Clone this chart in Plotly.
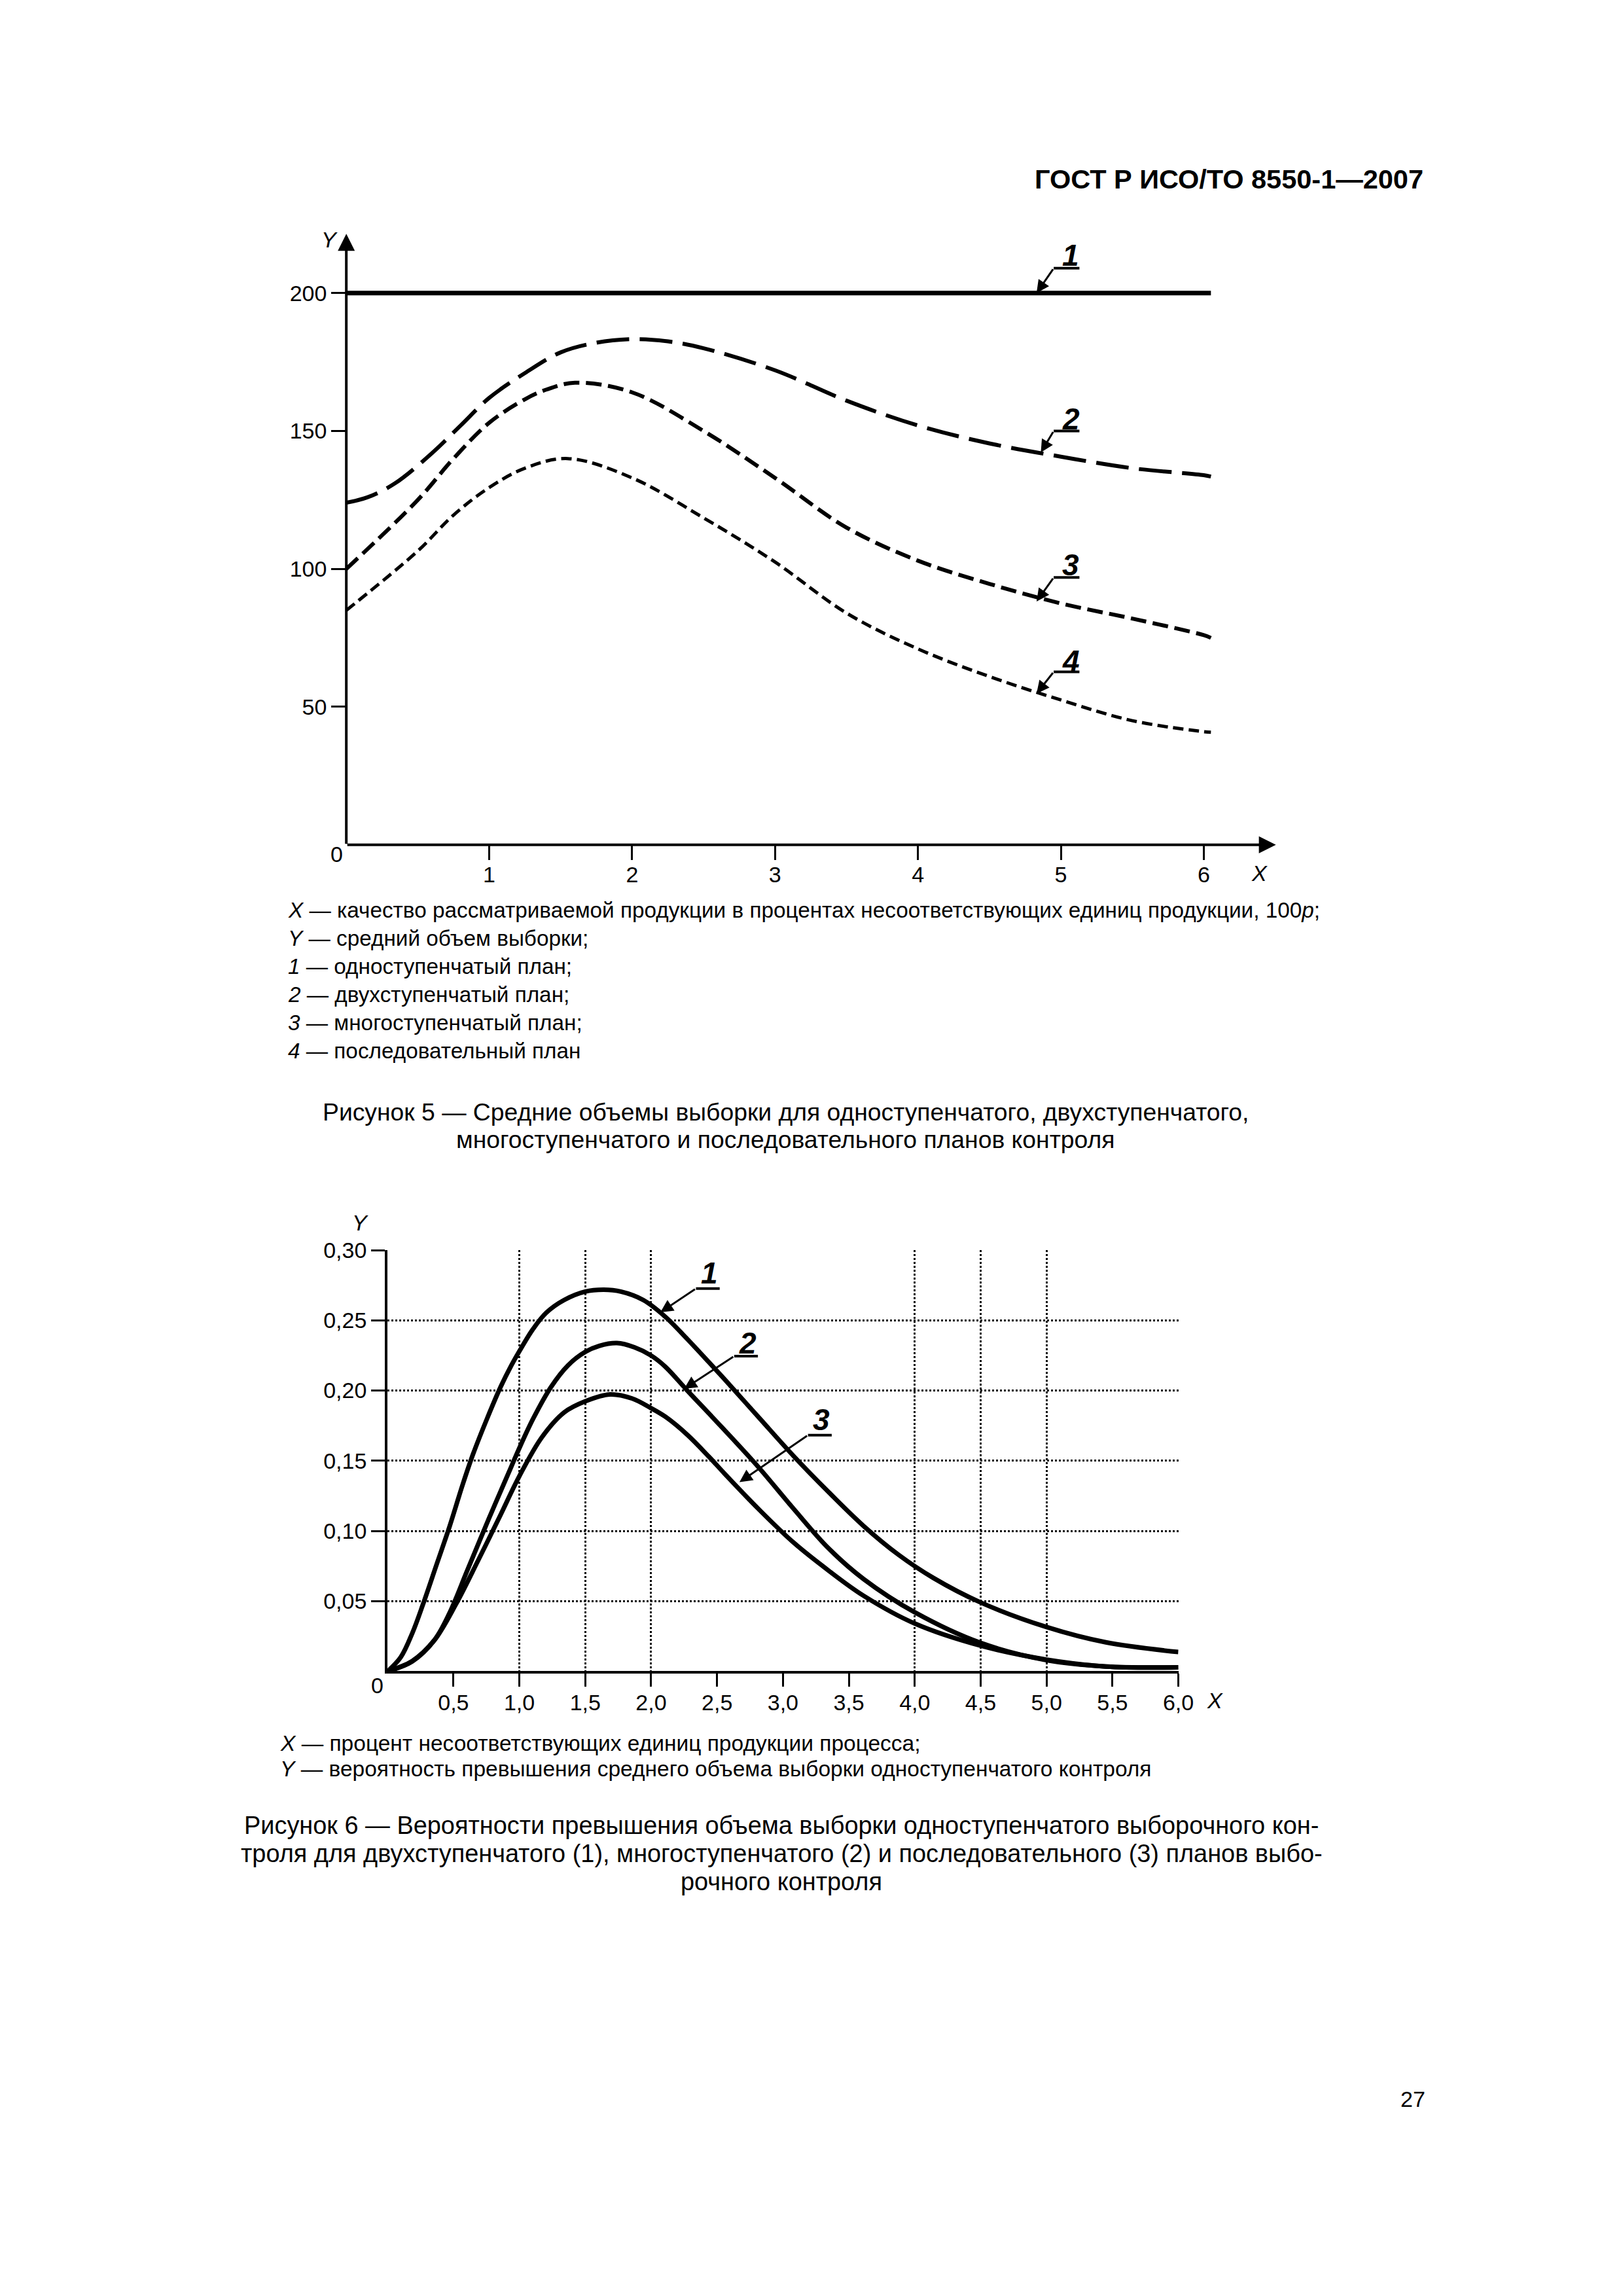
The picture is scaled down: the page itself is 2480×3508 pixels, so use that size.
import plotly.graph_objects as go

W, H = 2480, 3508
FONT = "Liberation Sans"

# ---------------- Figure 5 data ----------------
f5_x_single = [0.0, 6.05]
f5_y_single = [200, 200]

f5_x_double = [0.0, 0.15, 0.34, 0.6, 0.8, 1.0, 1.25, 1.5, 1.75, 2.0, 2.25, 2.5, 3.0, 3.5, 4.0, 4.5, 5.0, 5.5, 6.0, 6.05]
f5_y_double = [124, 126, 131, 142, 152, 162, 171, 178.5, 182, 183.3, 182.5, 180, 172, 161, 152, 145.5, 140.7, 136.5, 134, 133.5]

f5_x_multi = [0.0, 0.5, 0.75, 1.0, 1.25, 1.4, 1.6, 2.0, 2.5, 3.0, 3.5, 4.0, 4.5, 5.0, 5.5, 6.0, 6.05]
f5_y_multi = [100, 125, 140, 153, 161.5, 165, 167.5, 164, 150, 133, 115, 103, 94.6, 87.5, 82, 76, 75]

f5_x_seq = [0.0, 0.5, 0.75, 1.0, 1.25, 1.55, 2.0, 2.5, 3.0, 3.5, 4.0, 4.5, 5.0, 5.5, 6.0, 6.05]
f5_y_seq = [85, 106.5, 119.5, 129.5, 136.5, 140, 133, 118.5, 102.5, 84, 71, 61, 52.5, 45, 41, 40.8]

f5_xticks = [1, 2, 3, 4, 5, 6]
f5_yticks = [50, 100, 150, 200]

# ---------------- Figure 6 data ----------------
f6_x1 = [0, 0.10, 0.187, 0.27, 0.37, 0.47, 0.57, 0.65, 0.755, 0.855, 0.94, 1.0, 1.105, 1.205, 1.34, 1.5, 1.64,
         1.77, 1.94, 2.107, 2.274, 2.44, 2.555, 2.82, 3.084, 3.348, 3.612, 3.877, 4.141, 4.5, 5.0, 5.45, 6.0]
f6_y1 = [0, 0.010, 0.027, 0.048, 0.0755, 0.103, 0.133, 0.155, 0.180, 0.202, 0.218, 0.228, 0.244, 0.2555, 0.2645,
         0.2705, 0.2718, 0.2705, 0.2645, 0.2526, 0.2367, 0.22, 0.2082, 0.1805, 0.153, 0.1275, 0.1035, 0.0830,
         0.0665, 0.049, 0.0315, 0.0206, 0.0137]

f6_x2 = [0, 0.187, 0.354, 0.47, 0.604, 0.77, 0.94, 1.0, 1.105, 1.24, 1.37, 1.5, 1.606, 1.74, 1.873, 2.0, 2.107,
         2.274, 2.44, 2.54, 2.82, 3.084, 3.348, 3.612, 4.0, 4.5, 5.0, 5.45, 6.0]
f6_y2 = [0, 0.007, 0.022, 0.0415, 0.0716, 0.109, 0.146, 0.159, 0.180, 0.2025, 0.218, 0.2275, 0.2318, 0.2338,
         0.2308, 0.2249, 0.217, 0.200, 0.1835, 0.1735, 0.1448, 0.1154, 0.0874, 0.0657, 0.042, 0.0202, 0.0079,
         0.0034, 0.0028]

f6_x3 = [0, 0.187, 0.354, 0.52, 0.69, 0.855, 1.0, 1.17, 1.34, 1.5, 1.69, 1.856, 2.0, 2.107, 2.274, 2.44, 2.555,
         2.82, 3.084, 3.348, 3.612, 4.0, 4.5, 5.0, 5.45, 6.0]
f6_y3 = [0, 0.0073, 0.022, 0.048, 0.0795, 0.111, 0.139, 0.1666, 0.1844, 0.1923, 0.1972, 0.1943, 0.1874, 0.1814,
         0.1685, 0.1527, 0.1410, 0.1151, 0.0914, 0.0716, 0.0538, 0.034, 0.0182, 0.0083, 0.0034, 0.0028]

f6_xticks = [0.5, 1.0, 1.5, 2.0, 2.5, 3.0, 3.5, 4.0, 4.5, 5.0, 5.5, 6.0]
f6_xticktext = ["0,5", "1,0", "1,5", "2,0", "2,5", "3,0", "3,5", "4,0", "4,5", "5,0", "5,5", "6,0"]
f6_yticks = [0.05, 0.10, 0.15, 0.20, 0.25, 0.30]
f6_yticktext = ["0,05", "0,10", "0,15", "0,20", "0,25", "0,30"]
f6_vgrid = [1.0, 1.5, 2.0, 4.0, 4.5, 5.0]

# ---------------- texts ----------------
header = "ГОСТ Р ИСО/ТО 8550-1—2007"
f5_legend = [
    "<i>X</i> — качество рассматриваемой продукции в процентах несоответствующих единиц продукции, 100<i>p</i>;",
    "<i>Y</i> — средний объем выборки;",
    "<i>1</i> — одноступенчатый план;",
    "<i>2</i> — двухступенчатый план;",
    "<i>3</i> — многоступенчатый план;",
    "<i>4</i> — последовательный план",
]
f5_caption = [
    "Рисунок 5 — Средние объемы выборки для одноступенчатого, двухступенчатого,",
    "многоступенчатого и последовательного планов контроля",
]
f6_legend = [
    "<i>X</i> — процент несоответствующих единиц продукции процесса;",
    "<i>Y</i> — вероятность превышения среднего объема выборки одноступенчатого контроля",
]
f6_caption = [
    "Рисунок 6 — Вероятности превышения объема выборки одноступенчатого выборочного кон-",
    "троля для двухступенчатого (1), многоступенчатого (2) и последовательного (3) планов выбо-",
    "рочного контроля",
]
page_number = "27"

# empirical correction of the page placement in the photographed window
SX, OX = 0.990, 8.0
SY, OY = 0.994, 27.0


def px(p):
    return ((p - OX) / SX) / W


def py(p):
    return 1 - ((p - OY) / SY) / H


# ---------------- geometry (target pixels in the reference) ----------------
F5_X0, F5_XEND = 529, 1949      # x=0 and arrow tip
F5_Y0, F5_YEND = 1290, 357      # y=0 and arrow tip
F5_XMAX = (F5_XEND - F5_X0) / 218.3
F5_YMAX = (F5_Y0 - F5_YEND) / 4.2125
F6_X0, F6_X6 = 592, 1800
F6_Y0, F6_Y30 = 2552, 1909

fig = go.Figure()

fig.add_trace(go.Scatter(x=f5_x_single, y=f5_y_single, mode="lines",
                         line=dict(color="black", width=7), xaxis="x", yaxis="y"))
fig.add_trace(go.Scatter(x=f5_x_double, y=f5_y_double, mode="lines",
                         line=dict(color="black", width=6, dash="50px,16px", shape="spline"),
                         xaxis="x", yaxis="y"))
fig.add_trace(go.Scatter(x=f5_x_multi, y=f5_y_multi, mode="lines",
                         line=dict(color="black", width=6, dash="24px,10px", shape="spline"),
                         xaxis="x", yaxis="y"))
fig.add_trace(go.Scatter(x=f5_x_seq, y=f5_y_seq, mode="lines",
                         line=dict(color="black", width=5, dash="16px,8px", shape="spline"),
                         xaxis="x", yaxis="y"))

for xs, ys in [(f6_x1, f6_y1), (f6_x2, f6_y2), (f6_x3, f6_y3)]:
    fig.add_trace(go.Scatter(x=xs, y=ys, mode="lines",
                             line=dict(color="black", width=7, shape="spline", smoothing=1.0),
                             xaxis="x2", yaxis="y2"))

tickfont = dict(family=FONT, size=34, color="black")

fig.update_layout(
    width=W, height=H,
    margin=dict(l=0, r=0, t=0, b=0),
    paper_bgcolor="white", plot_bgcolor="rgba(0,0,0,0)",
    showlegend=False,
    font=dict(family=FONT, color="black"),
    xaxis=dict(domain=[px(F5_X0), px(F5_XEND)], range=[0, F5_XMAX],
               tickvals=f5_xticks, ticktext=[str(v) for v in f5_xticks],
               ticks="outside", ticklen=22, tickwidth=3, tickcolor="black", ticklabelstandoff=-7,
               showgrid=False, zeroline=False, showline=False,
               tickfont=tickfont, anchor="y"),
    yaxis=dict(domain=[py(F5_Y0), py(F5_YEND)], range=[0, F5_YMAX],
               tickvals=f5_yticks, ticktext=[str(v) for v in f5_yticks],
               ticks="outside", ticklen=22, tickwidth=3, tickcolor="black",
               showgrid=False, zeroline=False, showline=False,
               tickfont=tickfont, anchor="x"),
    xaxis2=dict(domain=[px(F6_X0), px(F6_X6)], range=[0, 6.0],
                tickvals=f6_xticks, ticktext=f6_xticktext,
                ticks="outside", ticklen=20, tickwidth=3, tickcolor="black", ticklabelstandoff=-5,
                showgrid=False, zeroline=False, showline=True, linecolor="black", linewidth=4,
                tickfont=tickfont, anchor="y2"),
    yaxis2=dict(domain=[py(F6_Y0), py(F6_Y30)], range=[0, 0.30],
                tickvals=f6_yticks, ticktext=f6_yticktext,
                ticks="outside", ticklen=21, tickwidth=3, tickcolor="black",
                showgrid=True, gridcolor="black", gridwidth=3, griddash="dot",
                zeroline=False, showline=True, linecolor="black", linewidth=4,
                tickfont=tickfont, anchor="x2"),
    xaxis3=dict(domain=[px(F6_X0), px(F6_X6)], range=[0, 6.0], overlaying="x2",
                tickvals=f6_vgrid, showticklabels=False, ticks="",
                showgrid=True, gridcolor="black", gridwidth=3, griddash="dot",
                zeroline=False, showline=False, anchor="y2"),
)
fig.add_trace(go.Scatter(x=[0], y=[0], mode="markers", marker=dict(opacity=0),
                         xaxis="x3", yaxis="y2", hoverinfo="skip"))

ann = []
shapes = []


def text_ann(text, xp, yp, size, xanchor="center", bold=False):
    if bold:
        text = "<b>%s</b>" % text
    return dict(text=text, x=px(xp), y=py(yp), xref="paper", yref="paper",
                xanchor=xanchor, yanchor="middle", showarrow=False,
                font=dict(size=size, family=FONT, color="black"))


# axis arrows for figure 5
ann.append(dict(x=0, y=F5_YMAX, ax=0, ay=0, xref="x", yref="y", axref="x", ayref="y",
                showarrow=True, arrowhead=2, arrowsize=1.3, arrowwidth=4, arrowcolor="black", text=""))
ann.append(dict(x=F5_XMAX, y=0, ax=0, ay=0, xref="x", yref="y", axref="x", ayref="y",
                showarrow=True, arrowhead=2, arrowsize=1.3, arrowwidth=4, arrowcolor="black", text=""))

# axis names / zero labels
ann.append(text_ann("<i>Y</i>", 503, 366, 34))
ann.append(text_ann("0", 514, 1304, 34))
ann.append(text_ann("<i>X</i>", 1924, 1333, 34))
ann.append(text_ann("<i>Y</i>", 550, 1867, 34))
ann.append(text_ann("0", 576, 2574, 34))
ann.append(text_ann("<i>X</i>", 1856, 2596, 34))

# curve labels figure 5: (label, text x, text y, underline x0, x1, y, tip x, tip y)
f5_labels = [
    ("1", 5.07, 213.6, 4.95, 5.13, 209.0, 4.83, 200.0),
    ("2", 5.07, 154.5, 4.95, 5.13, 150.0, 4.86, 142.2),
    ("3", 5.07, 101.6, 4.95, 5.13, 96.9, 4.83, 88.2),
    ("4", 5.07, 66.7, 4.95, 5.13, 62.7, 4.83, 54.8),
]
for t, tx, ty, u0, u1, uy, hx, hy in f5_labels:
    ann.append(dict(text="<b><i>%s</i></b>" % t, x=tx, y=ty, xref="x", yref="y", showarrow=False,
                    xanchor="center", yanchor="middle", font=dict(size=46, family=FONT)))
    shapes.append(dict(type="line", xref="x", yref="y", x0=u0, x1=u1, y0=uy, y1=uy,
                       line=dict(color="black", width=4)))
    ann.append(dict(text="", x=hx, y=hy, ax=u0, ay=uy, xref="x", yref="y", axref="x", ayref="y",
                    showarrow=True, arrowhead=2, arrowsize=1.3, arrowwidth=3, arrowcolor="black"))

# curve labels figure 6
f6_labels = [
    ("1", 2.44, 0.2835, 2.34, 2.52, 0.2726, 2.07, 0.2557),
    ("2", 2.73, 0.234, 2.63, 2.81, 0.2245, 2.25, 0.2012),
    ("3", 3.29, 0.1793, 3.19, 3.37, 0.1682, 2.67, 0.1347),
]
for t, tx, ty, u0, u1, uy, hx, hy in f6_labels:
    ann.append(dict(text="<b><i>%s</i></b>" % t, x=tx, y=ty, xref="x2", yref="y2", showarrow=False,
                    xanchor="center", yanchor="middle", font=dict(size=46, family=FONT)))
    shapes.append(dict(type="line", xref="x2", yref="y2", x0=u0, x1=u1, y0=uy, y1=uy,
                       line=dict(color="black", width=4)))
    ann.append(dict(text="", x=hx, y=hy, ax=u0, ay=uy, xref="x2", yref="y2", axref="x2", ayref="y2",
                    showarrow=True, arrowhead=2, arrowsize=1.3, arrowwidth=3, arrowcolor="black"))

# header and page number
ann.append(text_ann(header, 2176, 273, 41.5, xanchor="right", bold=True))
ann.append(text_ann(page_number, 2158, 3205, 34))

# figure 5 legend and caption
for i, line in enumerate(f5_legend):
    ann.append(text_ann(line, 438, 1390 + 43 * i, 33.3, xanchor="left"))
for i, line in enumerate(f5_caption):
    ann.append(text_ann(line, 1200, 1698 + 42 * i, 37.3))

# figure 6 legend and caption
for i, line in enumerate(f6_legend):
    ann.append(text_ann(line, 426, 2662 + 39 * i, 33.5, xanchor="left"))
for i, line in enumerate(f6_caption):
    ann.append(text_ann(line, 1194, 2787 + 43 * i, 37.9))

fig.update_layout(annotations=ann, shapes=shapes)
fig.write_html("out.html")
